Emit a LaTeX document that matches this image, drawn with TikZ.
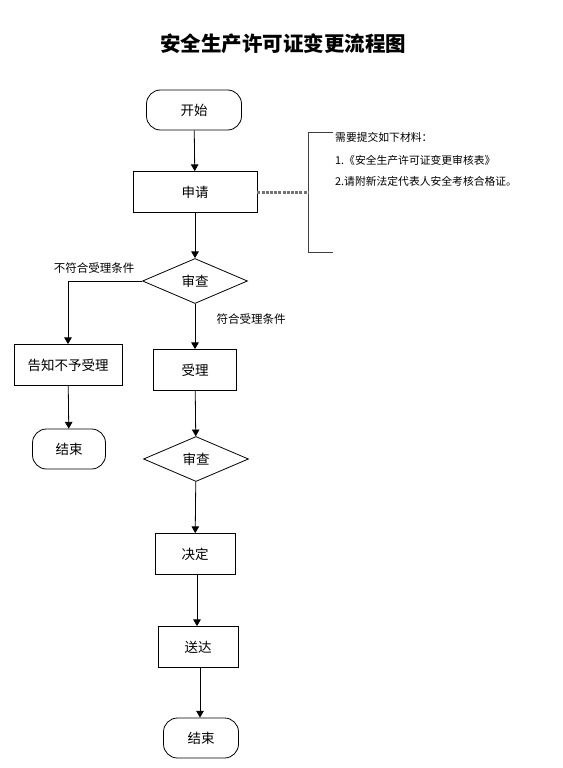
\documentclass[tikz,border=0pt]{standalone}
\usepackage{fontspec}
\setmainfont{Noto Sans CJK SC}
\usepackage{tikz}
\usetikzlibrary{arrows,shapes,positioning}

\tikzset{
  stepbox/.style={draw, rectangle, line width=0.8pt, minimum height=41pt, font=\fontsize{13.5}{16}\selectfont},
  endbox/.style={draw, rectangle, rounded corners=14pt, line width=0.8pt, minimum height=40pt, font=\fontsize{13.5}{16}\selectfont},
  checkbox/.style={draw, diamond, line width=0.8pt, inner sep=0pt, minimum width=105pt, minimum height=45pt, font=\fontsize{13.5}{16}\selectfont},
  cond/.style={font=\fontsize{11.5}{14}\selectfont},
  note/.style={anchor=west, inner sep=0pt, font=\fontsize{10.8}{13}\selectfont},
  flow/.style={line width=0.8pt, -triangle 60}
}

\begin{document}
\begin{tikzpicture}[x=1pt, y=-1pt]
    \useasboundingbox (0,0) rectangle (562,768);
    %the title
    \node (title) at (283,44) {\bfseries\fontsize{20.5}{24}\selectfont 安全生产许可证变更流程图};
    %the boxes
    \node[endbox, minimum width=95pt] (start) at (194,110) {开始};
    \node[stepbox, minimum width=124pt] (apply) at (195,192) {申请};
    \node[checkbox] (check1) at (195,281) {审查};
    \node[stepbox, minimum width=108pt] (refuse) at (68,365) {告知不予受理};
    \node[endbox, minimum width=73pt] (end1) at (69,449) {结束};
    \node[stepbox, minimum width=83pt] (accept) at (195,370) {受理};
    \node[checkbox] (check2) at (196,459) {审查};
    \node[stepbox, minimum width=80pt] (decide) at (195,554) {决定};
    \node[stepbox, minimum width=80pt] (deliver) at (198,647) {送达};
    \node[endbox, minimum width=75pt] (end2) at (201,738) {结束};
%the materials
    \coordinate (bt) at (333,132);
    \coordinate (bb) at (333,252);
    \coordinate (bm) at (308,192);
    \draw[line width=0.8pt, black!75] (bt) -- (308,132) -- (308,252) -- (bb);
    \draw[line width=3pt, black!55, dash pattern=on 3pt off 1.2pt] (apply.east) -- (bm);
    \node[note] (m0) at (335,137) {需要提交如下材料：};
    \node[note] (m1) at (335,160) {1.《安全生产许可证变更审核表》};
    \node[note] (m2) at (335,181) {2.请附新法定代表人安全考核合格证。};
%the arrows
    \draw[flow] (start) -- (apply);
    \draw[flow] (apply) -- (check1);
    \draw[flow] (check1.west) -| (refuse.north);
    \draw[flow] (refuse) -- (end1);
    \draw[flow] (check1) -- (accept);
    \draw[flow] (accept) -- (check2);
    \draw[flow] (check2) -- (decide);
    \draw[flow] (decide.south -| 197,0) -- (deliver.north -| 197,0);
    \draw[flow] (deliver.south -| 200,0) -- (end2.north -| 200,0);
%the conditions
    \node[cond] (no) at (94,268) {不符合受理条件};
    \node[cond] (yes) at (251,319) {符合受理条件};
\end{tikzpicture}
\end{document}
